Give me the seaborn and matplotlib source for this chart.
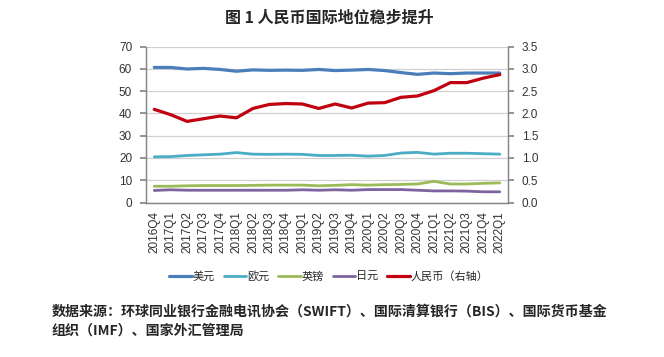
import matplotlib
matplotlib.use("Agg")
import matplotlib.pyplot as plt
import seaborn as sns
import pandas as pd
import numpy as np

quarters = ["2016Q4", "2017Q1", "2017Q2", "2017Q3", "2017Q4", "2018Q1", "2018Q2", "2018Q3",
            "2018Q4", "2019Q1", "2019Q2", "2019Q3", "2019Q4", "2020Q1", "2020Q2", "2020Q3",
            "2020Q4", "2021Q1", "2021Q2", "2021Q3", "2021Q4", "2022Q1"]
usd = [60.6, 60.6, 59.9, 60.2, 59.7, 58.9, 59.5, 59.3, 59.4, 59.3, 59.7, 59.2,
       59.4, 59.7, 59.2, 58.3, 57.5, 58.1, 57.8, 58.1, 58.1, 58.1]
eur = [20.5, 20.6, 21.1, 21.4, 21.7, 22.4, 21.7, 21.6, 21.7, 21.6, 21.1, 21.1,
       21.2, 20.8, 21.1, 22.2, 22.5, 21.7, 22.1, 22.1, 21.9, 21.7]
gbp = [7.3, 7.3, 7.5, 7.6, 7.6, 7.6, 7.7, 7.8, 7.8, 7.8, 7.5, 7.7,
       8.0, 7.8, 8.0, 8.1, 8.3, 9.5, 8.3, 8.3, 8.6, 8.8]
jpy = [5.4, 5.7, 5.5, 5.5, 5.5, 5.5, 5.5, 5.5, 5.5, 5.7, 5.5, 5.7,
       5.5, 5.8, 5.8, 5.8, 5.5, 5.2, 5.2, 5.1, 4.8, 4.8]
cny = [2.09, 1.97, 1.82, 1.88, 1.94, 1.90, 2.11, 2.20, 2.22, 2.21, 2.11, 2.21,
       2.12, 2.23, 2.24, 2.36, 2.39, 2.51, 2.69, 2.69, 2.79, 2.87]

labels = ["美元", "欧元", "英镑", "日元", "人民币（右轴）"]
colors = ["#4A7EBB", "#4BACC6", "#9BBB59", "#7E63A0", "#C0000F"]
title = "图 1 人民币国际地位稳步提升"
source = ("数据来源：环球同业银行金融电讯协会（SWIFT）、国际清算银行（BIS）、国际货币基金\n"
          "组织（IMF）、国家外汇管理局")

sns.set_theme(style="white")
plt.rcParams['font.family'] = ['Liberation Sans', 'Noto Sans CJK SC', 'DejaVu Sans']

idx = np.arange(len(quarters))
df = pd.DataFrame({"x": idx, "usd": usd, "eur": eur, "gbp": gbp, "jpy": jpy, "cny": cny})

fig = plt.figure(figsize=(6.64, 3.57), dpi=100)
ax = fig.add_axes([146/664, 1 - 202.5/357, (508-146)/664, (202.5-46.5)/357])
ax2 = ax.twinx()

for col, lab, c, lw in zip(["usd", "eur", "gbp", "jpy"], labels[:4], colors[:4], [2.3, 2.0, 2.0, 2.0]):
    sns.lineplot(data=df, x="x", y=col, ax=ax, color=c, linewidth=lw, label=lab, legend=False)
sns.lineplot(data=df, x="x", y="cny", ax=ax2, color=colors[4], linewidth=2.3, label=labels[4], legend=False)

gray = "#868686"
ax.set_ylim(0, 70)
ax.set_yticks(np.arange(0, 71, 10))
ax2.set_ylim(0, 3.5)
ax2.set_yticks(np.arange(0, 3.51, 0.5))
ax2.set_yticklabels([f"{v:.1f}" for v in np.arange(0, 3.51, 0.5)])
ax.set_xlim(-0.5, len(quarters) - 0.5)
ax.set_xticks(idx)
ax.set_xticklabels(quarters, rotation=90, fontsize=8.5)
ax.set_xticks(np.arange(-0.5, len(quarters), 1), minor=True)
ax.tick_params(axis="x", which="major", length=0, pad=6, colors="#333333")
ax.tick_params(axis="x", which="minor", length=4, color=gray, direction="out")
ax.tick_params(axis="y", length=4, color=gray, direction="out", labelsize=8.5, labelcolor="#333333", pad=6)
ax2.tick_params(axis="y", length=4, color=gray, direction="out", labelsize=8.5, labelcolor="#333333", pad=6)
ax.yaxis.grid(True, color="#D0D0D0", linewidth=0.9)
ax.set_axisbelow(True)
ax.set_xlabel("")
ax.set_ylabel("")
ax2.set_ylabel("")
for a in (ax, ax2):
    a.spines["top"].set_visible(False)
    for s in ("left", "right", "bottom"):
        a.spines[s].set_color(gray)
        a.spines[s].set_linewidth(0.9)

h1, l1 = ax.get_legend_handles_labels()
h2, l2 = ax2.get_legend_handles_labels()
fig.legend(h1 + h2, l1 + l2, loc="center", bbox_to_anchor=(329/664, 1 - 276/357), ncol=5,
           frameon=False, handlelength=2.0, handletextpad=0.1, columnspacing=0.8,
           prop={"family": ["Noto Sans CJK SC"], "size": 8})

fig.text(329/664, 1 - 18/357, title, ha="center", va="center", fontsize=11.5, fontweight="bold",
         family=["Noto Sans CJK SC"])
fig.text(52/664, 1 - 321/357, source, ha="left", va="center", fontsize=10.1, fontweight="bold",
         family=["Noto Sans CJK SC"], linespacing=1.55)

fig.savefig("out.png", dpi=100)
